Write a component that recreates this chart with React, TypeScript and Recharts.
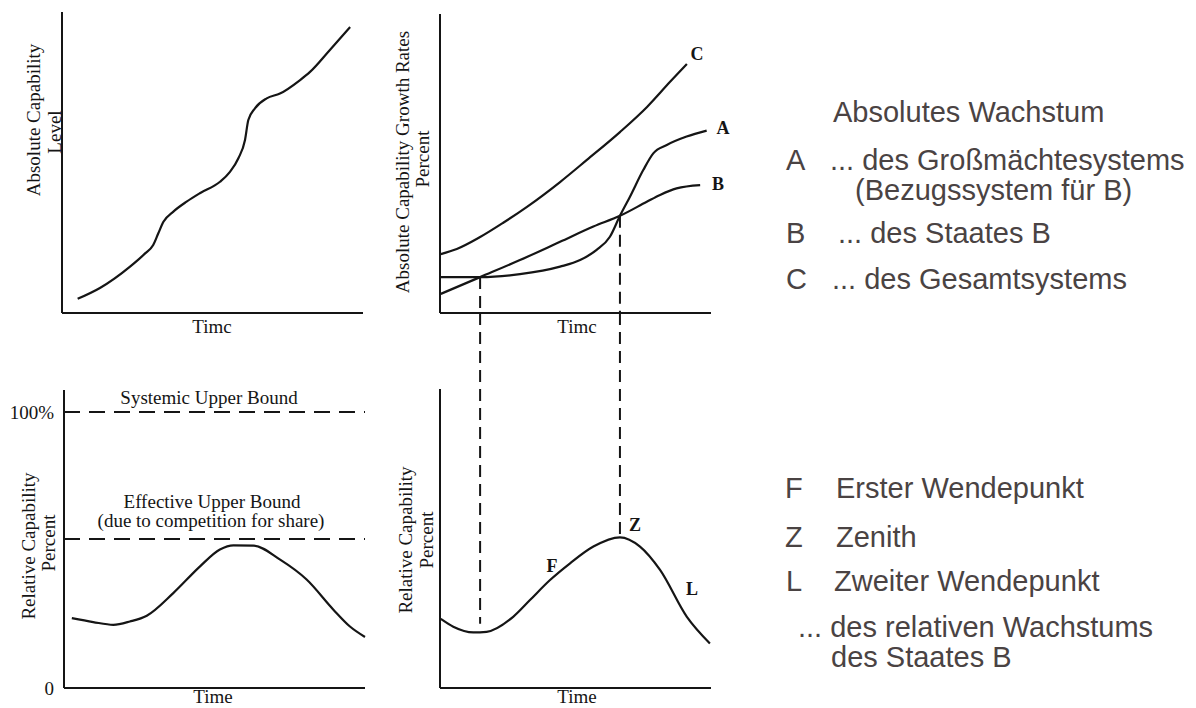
import React from 'react';
import { LineChart, Line, XAxis, YAxis, ReferenceLine } from 'recharts';

// Top left: absolute capability level over time
const levelTime = [5.2, 12.6, 22.6, 27.6, 30.3, 32.0, 33.7, 37.0, 41.4, 45.8, 52.5, 55.8, 58.6, 60.8, 61.9, 64.1, 68.0, 72.4, 79.1, 82.4, 89.0, 95.7];
const levelValue = [4.7, 8.3, 15.4, 19.8, 22.6, 26.5, 30.3, 33.7, 37.0, 39.8, 43.6, 46.9, 51.4, 57.5, 64.1, 68.0, 71.3, 72.9, 77.4, 80.1, 87.4, 95.0];

// Top right: growth rates of the whole system (C), great power system (A) and state B
const growthTimeC = [0.3, 6.2, 14.8, 23.2, 32.1, 44.3, 54.2, 66.4, 76.4, 84.9, 91.1];
const growthC = [19.7, 21.4, 25.4, 30.1, 35.5, 43.8, 51.2, 60.5, 68.9, 77.3, 83.3];
const growthTimeA = [0.3, 14.8, 29.5, 44.3, 51.7, 57.8, 62.7, 66.4, 70.1, 75.0, 78.7, 83.7, 91.0, 98.4];
const growthA = [12.0, 12.0, 13.0, 15.5, 17.7, 21.1, 25.5, 32.5, 38.9, 47.8, 53.4, 56.2, 59.0, 61.0];
const growthTimeB = [0.3, 14.8, 29.5, 44.3, 56.6, 66.4, 76.3, 81.2, 87.3, 96.0];
const growthB = [6.4, 12.0, 17.7, 23.8, 28.9, 32.5, 37.2, 39.5, 41.7, 42.8];

// Bottom left: relative capability with its bounds
const shareTime = [2.6, 9.7, 16.4, 21.9, 27.5, 36.3, 45.2, 51.8, 56.3, 62.9, 71.8, 80.6, 89.5, 95.0, 100];
const shareValue = [25.3, 23.9, 22.9, 24.1, 26.2, 34.4, 44.1, 50.2, 51.7, 51.6, 46.5, 39.3, 28.4, 22.3, 18.5];
const boundTicks = [0, 100];
const boundTickLabels = ['0', '100%'];
const systemicBound = 100;
const effectiveBound = 54;

// Bottom right: relative capability of state B
const relTime = [0.3, 4.9, 12.3, 17.2, 27.0, 33.2, 40.6, 48.0, 56.6, 66.4, 73.8, 81.2, 91.1, 99.6];
const relValue = [23.1, 20.5, 18.6, 18.8, 23.8, 29.4, 36.1, 41.7, 47.3, 50.4, 47.3, 39.5, 23.8, 14.9];

// Crossings of A and B carried down to the relative curve
const connectorTime = [14.8, 66.4];
const connectorTop = [12.0, 32.5];
const connectorBottom = [21.5, 50.5];
const connectorReach = 125.4;

const INK = '#151515';
const LEGEND = '#4a4343';
const SERIF = '"Liberation Serif", "Times New Roman", serif';
const SANS = '"Liberation Sans", Arial, sans-serif';

const rows = (xs: number[], ys: number[]) => xs.map((x, i) => ({ x, y: ys[i] }));

const axisLine = { stroke: INK, strokeWidth: 2 };

function Curve({ data }: { data: { x: number; y: number }[] }) {
  return (
    <Line
      data={data}
      dataKey="y"
      type="monotone"
      stroke={INK}
      strokeWidth={2.2}
      dot={false}
      activeDot={false}
      isAnimationActive={false}
    />
  );
}

function TimeAxis() {
  return (
    <XAxis type="number" dataKey="x" domain={[0, 100]} tick={false} tickLine={false} axisLine={axisLine} height={1} />
  );
}

function PlainYAxis() {
  return <YAxis type="number" domain={[0, 100]} tick={false} tickLine={false} axisLine={axisLine} width={1} />;
}

export default function App() {
  return (
    <div style={{ position: 'absolute', left: 0, top: 0, width: 1196, height: 708, background: '#fff', overflow: 'hidden' }}>
      {/* top left */}
      <div style={{ position: 'absolute', left: 0, top: 0 }}>
        <LineChart width={380} height={345} margin={{ top: 12, right: 17, bottom: 31, left: 61 }}>
          {TimeAxis()}
          {PlainYAxis()}
          {Curve({ data: rows(levelTime, levelValue) })}
        </LineChart>
      </div>

      {/* top right */}
      <div style={{ position: 'absolute', left: 370, top: 0 }}>
        <LineChart width={360} height={345} margin={{ top: 14, right: 19, bottom: 31, left: 69 }}>
          {TimeAxis()}
          {PlainYAxis()}
          {connectorTime.map((t, i) => (
            <ReferenceLine
              key={`up-${i}`}
              segment={[{ x: t, y: connectorTop[i] }, { x: t, y: 0 }]}
              stroke={INK}
              strokeWidth={2}
              strokeDasharray="12 7"
              ifOverflow="visible"
            />
          ))}
          {Curve({ data: rows(growthTimeC, growthC) })}
          {Curve({ data: rows(growthTimeA, growthA) })}
          {Curve({ data: rows(growthTimeB, growthB) })}
        </LineChart>
      </div>

      {/* bottom left */}
      <div style={{ position: 'absolute', left: 0, top: 360 }}>
        <LineChart width={380} height={348} margin={{ top: 30, right: 15, bottom: 19, left: 4 }}>
          {TimeAxis()}
          <YAxis
            type="number"
            domain={[0, 108]}
            ticks={boundTicks}
            tickFormatter={(v: number) => boundTickLabels[boundTicks.indexOf(v)]}
            tick={{ fill: INK, fontSize: 19, fontFamily: SERIF }}
            tickLine={false}
            tickSize={0}
            tickMargin={10}
            axisLine={axisLine}
            width={60}
          />
          <ReferenceLine y={systemicBound} stroke={INK} strokeWidth={2} strokeDasharray="16 9" />
          <ReferenceLine y={effectiveBound} stroke={INK} strokeWidth={2} strokeDasharray="16 9" />
          {Curve({ data: rows(shareTime, shareValue) })}
        </LineChart>
      </div>

      {/* bottom right */}
      <div style={{ position: 'absolute', left: 370, top: 300 }}>
        <LineChart width={360} height={408} margin={{ top: 89, right: 19, bottom: 19, left: 69 }}>
          {TimeAxis()}
          {PlainYAxis()}
          {connectorTime.map((t, i) => (
            <ReferenceLine
              key={`down-${i}`}
              segment={[{ x: t, y: connectorReach }, { x: t, y: connectorBottom[i] }]}
              stroke={INK}
              strokeWidth={2}
              strokeDasharray="12 7"
              ifOverflow="visible"
            />
          ))}
          {Curve({ data: rows(relTime, relValue) })}
        </LineChart>
      </div>

      {/* labels */}
      <svg width={1196} height={708} style={{ position: 'absolute', left: 0, top: 0, pointerEvents: 'none' }}>
        <g fontFamily={SERIF} fontSize={19} fill={INK} textAnchor="middle">
          <text transform="translate(40,120) rotate(-90)">Absolute Capability</text>
          <text transform="translate(61,132) rotate(-90)">Level</text>
          <text x={212} y={333}>Timc</text>

          <text transform="translate(409,162) rotate(-90)">Absolute Capability Growth Rates</text>
          <text transform="translate(429,159) rotate(-90)">Percent</text>
          <text x={577} y={333}>Timc</text>

          <text x={209} y={404}>Systemic Upper Bound</text>
          <text x={212} y={508}>Effective Upper Bound</text>
          <text x={211} y={527}>(due to competition for share)</text>
          <text transform="translate(35,546) rotate(-90)">Relative Capability</text>
          <text transform="translate(55,543) rotate(-90)">Percent</text>
          <text x={213} y={703}>Time</text>

          <text transform="translate(412,540) rotate(-90)">Relative Capability</text>
          <text transform="translate(433,540) rotate(-90)">Percent</text>
          <text x={577} y={703}>Time</text>
        </g>
        <g fontFamily={SERIF} fontSize={18} fontWeight="bold" fill={INK} textAnchor="middle">
          <text x={697} y={60}>C</text>
          <text x={723} y={134}>A</text>
          <text x={718} y={190}>B</text>
          <text x={552} y={572}>F</text>
          <text x={635} y={531}>Z</text>
          <text x={692} y={595}>L</text>
        </g>
        <g fontFamily={SANS} fontSize={29} fill={LEGEND}>
          <text x={833} y={122}>Absolutes Wachstum</text>
          <text x={786} y={170}>A</text>
          <text x={830} y={170}>... des Großmächtesystems</text>
          <text x={855} y={200}>(Bezugssystem für B)</text>
          <text x={786} y={243}>B</text>
          <text x={838} y={243}>... des Staates B</text>
          <text x={786} y={289}>C</text>
          <text x={832} y={289}>... des Gesamtsystems</text>

          <text x={785} y={498}>F</text>
          <text x={836} y={498}>Erster Wendepunkt</text>
          <text x={785} y={547}>Z</text>
          <text x={836} y={547}>Zenith</text>
          <text x={786} y={591}>L</text>
          <text x={834} y={591}>Zweiter Wendepunkt</text>
          <text x={798} y={637}>... des relativen Wachstums</text>
          <text x={831} y={667}>des Staates B</text>
        </g>
      </svg>
    </div>
  );
}
